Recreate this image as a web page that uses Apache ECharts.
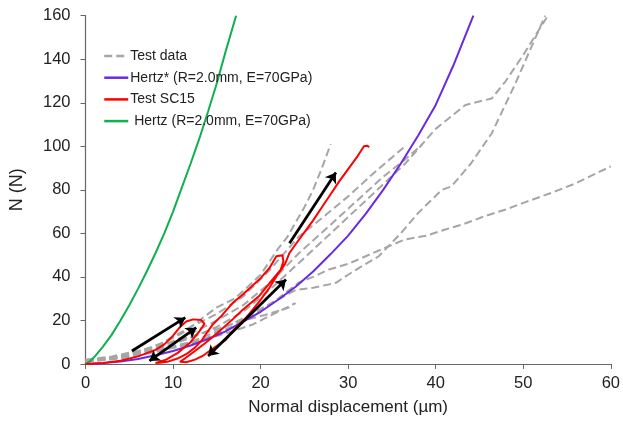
<!DOCTYPE html>
<html><head><meta charset="utf-8">
<script src="https://cdn.jsdelivr.net/npm/echarts@6/dist/echarts.min.js"></script>
<style>html,body{margin:0;padding:0;background:#fff}#c{width:623px;height:421px}</style>
</head><body><div id="c"></div>
<script>
// ---- data (x = normal displacement µm, y = N) ----
var xTicks = [0,10,20,30,40,50,60];
var yTicks = [0,20,40,60,80,100,120,140,160];

var hertzGreen = [[0,0],[0.5,1.2],[1,3.2],[2,8],[3,13.5],[4,20],[5,27],[6,34.5],[7,42.5],[8,51],[9,60],[10,70],[11,81],[12,92],[13,103.5],[14,116],[15,129],[16,143.5],[17.2,160]];
var hertzStar = [[0,0],[2,0.4],[4,1.2],[6,2.3],[8,4],[10,6],[12,8.5],[14,11.5],[16,15],[18,19.5],[20,24],[22,29.5],[24,35.5],[26,42.5],[28,50.5],[30,59],[32,69],[34,80],[36,92],[38,105],[40,119],[42,137],[44.3,160]];

var testA = [[0,1.5],[3,3],[6,5.5],[9,10],[11,14],[13,20],[15,26],[17,30],[18,33.5],[20,41],[21,47],[22,53],[23,58],[24,65],[25,72],[26,80],[27,90],[28,101]];
var testB = [[0,1.2],[4,3.5],[8,8],[12,17],[15,23],[18,31],[21,43],[24.4,58.7],[27,67],[30,77],[33,88],[36.5,100]];
var testC = [[0,1],[4,3],[8,7],[12,14],[15,20],[18,27],[21,37],[24.4,51],[28,64],[31,75],[34,86],[36.5,94],[38.5,101]];
var testD = [[0,1.3],[4,3],[8,6.5],[12,12],[15,17],[18,24],[21,34],[24.4,46.5],[28,60],[32,75],[36.5,92],[40,108],[43.4,119],[46.4,122],[48,130],[50,142],[52.8,160]];
var testE = [[0,1.6],[4,3.5],[8,6.5],[12,10],[15,15],[18,21],[21,27.5],[24,34],[26,35],[28.6,37.3],[30,41],[31.6,45],[33.5,49.5],[36,60],[38,69.4],[40.7,80],[41.8,81.6],[44,92],[46.4,106],[49,128],[52.5,160]];
var testF = [[0,1.8],[4,3.2],[8,6],[12,9],[15,14],[18,19.5],[21,27],[24.4,37.5],[26,40],[27.8,43.4],[30,46],[32,49.5],[34,53],[36.5,57.2],[39,59],[41.1,61.8],[43,64],[45.6,67.9],[48,71],[50,74],[53.2,78.6],[56,83],[60,90.8]];
var testG = [[0,2],[3,3.5],[6,6],[9,9],[12,12.5],[15,16],[18,20],[20.5,22.5],[23.3,26]];
var testH = [[0,1],[4,2.5],[8,5.5],[12,9.5],[16,14],[19,18],[22,24],[24,28]];

var testSC15 = [[0,0],[2,0.5],[4,1.5],[6,3.5],[8,6.5],[9,9],[10,13],[10.8,17],[11.5,19.5],[12.3,20.5],[13.2,20.2],[13.6,18.5],
  [13,15],[12,10],[10.5,5],[9.2,2],[8.3,0.8],[8,0.5],
  [8.5,0.6],[9.5,1.2],[10.5,2.5],[11.5,4.5],[12.5,7.5],[13.3,11],[13.8,14],[14.5,18],[15.5,22],[16.8,28],[18,32],[19.9,39],[21,44],[21.8,49.5],[22.5,50],[22.6,47],[22.3,43.4],
  [21,37],[19.9,31.5],[18,25],[16.8,20.5],[15,14],[13.8,10],[12.5,6],[11.5,3],[10.8,1],[10.9,0.4],
  [11.5,0.8],[12.5,2],[13.5,4],[14.5,7],[16,11],[17,16],[18.5,22],[20,29.5],[21,35],[22.1,42],[22.8,46],[23.3,51],[24,55],[25,60.5],[26,66],[27,72],[28,78],[29,84],[30,89.5],[31,95],[31.8,100],[32.2,100.3],[32.4,99.6]];

var arrowsSingle = [[[5.3,6],[11.4,21.3]], [[23.3,55.5],[28.6,88]]];
var arrowsDouble = [[[7.3,1.4],[12.65,16.7]], [[14,3.7],[22.9,38.8]]];

var names = {test:'Test data', star:'Hertz* (R=2.0mm, E=70GPa)', sc:'Test SC15', hertz:' Hertz (R=2.0mm, E=70GPa)'};

var gray = '#A6A6A6';
function grayS(d){return {name:names.test,type:'line',data:d,symbol:'none',silent:true,
  lineStyle:{color:gray,width:2,type:[8,4]},itemStyle:{color:gray},z:1};}

var series = [testA,testB,testC,testD,testE,testF,testG,testH].map(grayS);
series.push({name:names.star,type:'line',data:hertzStar,symbol:'none',lineStyle:{color:'#6A2BE0',width:2},itemStyle:{color:'#6A2BE0'},z:2});
series.push({name:names.sc,type:'line',data:testSC15,symbol:'none',lineStyle:{color:'#FF0000',width:2},itemStyle:{color:'#FF0000'},z:3});
series.push({name:names.hertz,type:'line',data:hertzGreen,symbol:'none',lineStyle:{color:'#10B050',width:2},itemStyle:{color:'#10B050'},z:2});
series.push({type:'lines',coordinateSystem:'cartesian2d',symbol:['none','arrow'],symbolSize:10,
  lineStyle:{color:'#000',width:2.8,opacity:1},data:arrowsSingle.map(function(c){return {coords:c};}),z:5});
series.push({type:'lines',coordinateSystem:'cartesian2d',symbol:['arrow','arrow'],symbolSize:10,
  lineStyle:{color:'#000',width:2.8,opacity:1},data:arrowsDouble.map(function(c){return {coords:c};}),z:5});

var font = 'Liberation Sans';
var chart = echarts.init(document.getElementById('c'));
chart.setOption({
  animation:false,
  grid:{left:85.5,right:10,top:15.7,bottom:56.3,containLabel:false},
  legend:{orient:'vertical',left:98,top:44,itemWidth:24,itemHeight:13,itemGap:7.7,
    itemStyle:{opacity:0},lineStyle:{width:2.5},
    data:[names.test,names.star,names.sc,names.hertz],
    textStyle:{fontFamily:font,fontSize:14,color:'#222',padding:[0,0,0,-3]}},
  xAxis:{type:'value',min:0,max:60,interval:10,
    name:'Normal displacement (µm)',nameLocation:'middle',nameGap:35,
    nameTextStyle:{fontFamily:font,fontSize:17,color:'#222'},
    axisLine:{lineStyle:{color:'#666',width:1.2}},axisTick:{show:true,length:5,lineStyle:{color:'#666'}},
    splitLine:{show:false},axisLabel:{fontFamily:font,fontSize:16.5,color:'#222',margin:11}},
  yAxis:{type:'value',min:0,max:160,interval:20,
    name:'N (N)',nameLocation:'middle',nameGap:59,nameRotate:90,
    nameTextStyle:{fontFamily:font,fontSize:18,color:'#222'},
    axisLine:{show:true,lineStyle:{color:'#666',width:1.2}},axisTick:{show:true,length:5,lineStyle:{color:'#666'}},
    splitLine:{show:false},axisLabel:{fontFamily:font,fontSize:16.5,color:'#222',margin:15}},
  series:series
});
</script></body></html>
